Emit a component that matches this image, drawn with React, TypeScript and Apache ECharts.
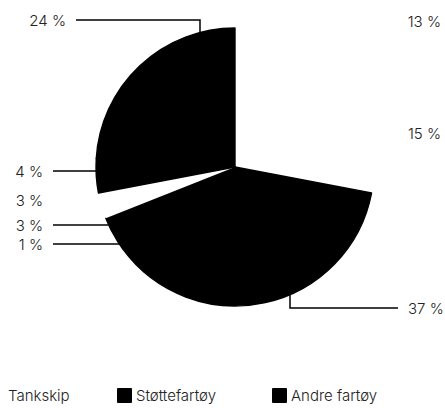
import React, { useEffect, useRef } from "react";
import * as echarts from "echarts";

// ---- data ----
const categories = [
  "Lasteskip",
  "Passasjerskip",
  "Fiskefartøy",
  "Offshorefartøy",
  "Brønnbåter",
  "Tankskip",
  "Støttefartøy",
  "Andre fartøy",
];
const shares = [13, 15, 37, 1, 3, 3, 4, 24];
const sliceColors = ["#ffffff", "#ffffff", "#000000", "#000000", "#000000", "#ffffff", "#000000", "#000000"];
const legendItems = ["Tankskip", "Støttefartøy", "Andre fartøy"];

// ---- layout / style ----
const CX = 235;
const CY = 167;
const R = 139;
const GAP = 10;
const FONT = "Inter";
const FS = 15;
const legendLefts = [-10, 117, 272];

type Spot = { x: number; y: number; align: "left" | "right"; line?: "h" | "down" | "up"; anchorX?: number };
const labelSpots: Spot[] = [
  { x: 441, y: 21, align: "right" },
  { x: 441, y: 133, align: "right" },
  { x: 408, y: 308, align: "left", line: "up", anchorX: 290 },
  { x: 43, y: 244, align: "right", line: "h" },
  { x: 43, y: 225, align: "right", line: "h" },
  { x: 43, y: 200, align: "right" },
  { x: 43, y: 171, align: "right", line: "h" },
  { x: 66, y: 20, align: "right", line: "down", anchorX: 200 },
];

export default function App() {
  const ref = useRef<HTMLDivElement>(null);
  useEffect(() => {
    if (!ref.current) return;
    const chart = echarts.init(ref.current, undefined, { renderer: "svg" });
    const data = categories.map((name, i) => {
      const dark = sliceColors[i] !== "#ffffff";
      return {
        name,
        value: shares[i],
        itemStyle: {
          color: sliceColors[i],
          borderColor: sliceColors[i],
          borderWidth: dark ? 1.4 : 0,
        },
        labelLine: { show: !!labelSpots[i].line },
      };
    });
    chart.setOption({
      animation: false,
      legend: legendItems.map((name, i) => ({
        data: [name],
        left: legendLefts[i],
        top: 388,
        padding: 0,
        itemWidth: 13,
        itemHeight: 13,
        icon: "rect",
        selectedMode: false,
        textStyle: { fontFamily: FONT, fontSize: FS, fontWeight: 300, color: "#222" },
      })),
      series: [
        {
          type: "pie",
          center: [CX, CY],
          radius: R,
          startAngle: 90,
          clockwise: true,
          silent: true,
          avoidLabelOverlap: false,
          emphasis: { disabled: true },
          label: {
            show: true,
            formatter: "{c} %",
            fontFamily: FONT,
            fontSize: FS,
            fontWeight: 300,
            color: "#222",
          },
          labelLine: { show: true, lineStyle: { color: "#000", width: 1.5 } },
          labelLayout: (params: any) => {
            const s = labelSpots[params.dataIndex];
            const res: any = { x: s.x, y: s.y, align: s.align, verticalAlign: "middle" };
            if (s.line === "h") {
              const xe = CX - Math.sqrt(R * R - (s.y - CY) * (s.y - CY));
              res.labelLinePoints = [
                [s.x + GAP, s.y],
                [xe, s.y],
                [xe + 0.01, s.y],
              ];
            } else if (s.line === "down" && s.anchorX != null) {
              const ye = CY - Math.sqrt(R * R - (s.anchorX - CX) * (s.anchorX - CX));
              res.labelLinePoints = [
                [s.x + GAP, s.y],
                [s.anchorX, s.y],
                [s.anchorX, ye],
              ];
            } else if (s.line === "up" && s.anchorX != null) {
              const ye = CY + Math.sqrt(R * R - (s.anchorX - CX) * (s.anchorX - CX));
              res.labelLinePoints = [
                [s.anchorX, ye],
                [s.anchorX, s.y],
                [s.x - GAP, s.y],
              ];
            }
            return res;
          },
          data,
        },
      ],
    });
    return () => chart.dispose();
  }, []);
  return (
    <div
      ref={ref}
      style={{ position: "fixed", left: 0, top: 0, width: 445, height: 408, background: "#fff" }}
    />
  );
}
